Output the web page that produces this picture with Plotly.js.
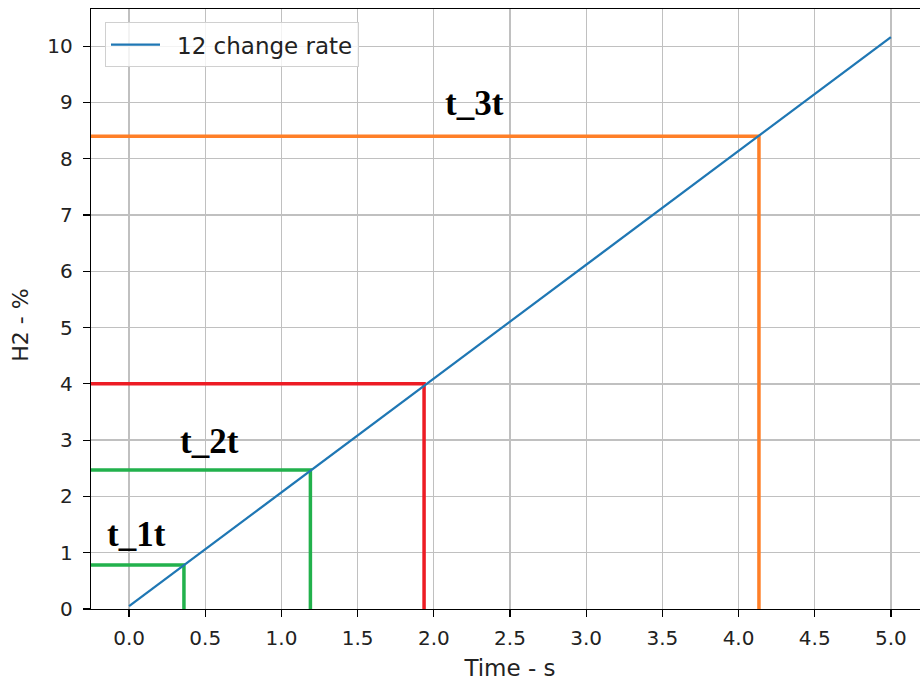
<!DOCTYPE html>
<html>
<head>
<meta charset="utf-8">
<script src="https://cdn.plot.ly/plotly-3.0.1.min.js"></script>
<style>html,body{margin:0;padding:0;background:#fff;overflow:hidden;}#chart{width:932px;height:684px;}</style>
</head>
<body>
<div id="chart"></div>
<script>
// Data
var time = [0, 1, 2, 3, 4, 5];
var h2 = [0.05, 2.07, 4.09, 6.12, 8.14, 10.16];
var seriesName = '12 change rate';

var markerT = [0.36, 1.19, 1.936, 4.134];
var markerH = [0.78, 2.47, 4.0, 8.4];
var markerColors = ['#22b14c', '#22b14c', '#ed1c24', '#ff7f27'];

var labelText = ['t_1t', 't_2t', 't_3t'];
var labelX = [0.05, 0.53, 2.264];
var labelY = [1.33, 2.98, 8.98];

var xRange = [-0.25, 5.25];
var yRange = [0, 10.66];
var xTicks = [0, 0.5, 1, 1.5, 2, 2.5, 3, 3.5, 4, 4.5, 5];
var xTickText = ['0.0','0.5','1.0','1.5','2.0','2.5','3.0','3.5','4.0','4.5','5.0'];
var yTicks = [0,1,2,3,4,5,6,7,8,9,10];

var traces = [];
for (var i = 0; i < markerT.length; i++) {
  traces.push({
    x: [xRange[0], markerT[i], markerT[i]],
    y: [markerH[i], markerH[i], 0],
    mode: 'lines',
    line: {color: markerColors[i], width: 3.5},
    showlegend: false,
    hoverinfo: 'skip'
  });
}
traces.push({
  x: time, y: h2, mode: 'lines', name: seriesName,
  line: {color: '#1f77b4', width: 2.3}
});

var annotations = labelText.map(function (t, i) {
  return {
    x: labelX[i], y: labelY[i], xref: 'x', yref: 'y', text: '<b>' + t + '</b>',
    showarrow: false, xanchor: 'center', yanchor: 'middle',
    font: {family: 'Liberation Serif, Times New Roman, serif', size: 35, color: '#000'}
  };
});
annotations.push({
  text: 'H2 - %', xref: 'paper', yref: 'paper', x: -0.0835, y: 0.472,
  xanchor: 'center', yanchor: 'middle', textangle: -90, showarrow: false,
  font: {family: 'DejaVu Sans', size: 22, color: '#222'}
});

var axisCommon = {
  showgrid: true, gridcolor: '#c0c0c0', gridwidth: 1.3,
  zeroline: false, showline: true, linecolor: '#000', linewidth: 1.2, mirror: true,
  ticks: 'outside', ticklen: 7, tickwidth: 1.2, tickcolor: '#000',
  tickfont: {family: 'DejaVu Sans', size: 20, color: '#222'}
};

var layout = {
  width: 932, height: 684,
  margin: {l: 91, r: 3, t: 9, b: 75},
  paper_bgcolor: '#fff', plot_bgcolor: '#fff',
  showlegend: true,
  xaxis: Object.assign({}, axisCommon, {
    range: xRange, tickvals: xTicks, ticktext: xTickText, ticklabelstandoff: 4,
    title: {text: 'Time - s', font: {family: 'DejaVu Sans', size: 23, color: '#222'}, standoff: 10}
  }),
  yaxis: Object.assign({}, axisCommon, {
    range: yRange, tickvals: yTicks, ticklabelstandoff: 6
  }),
  legend: {
    x: 0.0167, y: 0.978, xanchor: 'left', yanchor: 'top',
    bgcolor: 'rgba(255,255,255,0.8)', bordercolor: '#d0d0d0', borderwidth: 1,
    itemwidth: 61,
    font: {family: 'DejaVu Sans', size: 23, color: '#222'}
  },
  annotations: annotations
};

Plotly.newPlot('chart', traces, layout, {displayModeBar: false, staticPlot: true}).then(function () {
  var paths = document.querySelectorAll('.legend .legendlines path');
  paths.forEach(function (p) { p.setAttribute('d', 'M5,0h49'); });
});
</script>
</body>
</html>
